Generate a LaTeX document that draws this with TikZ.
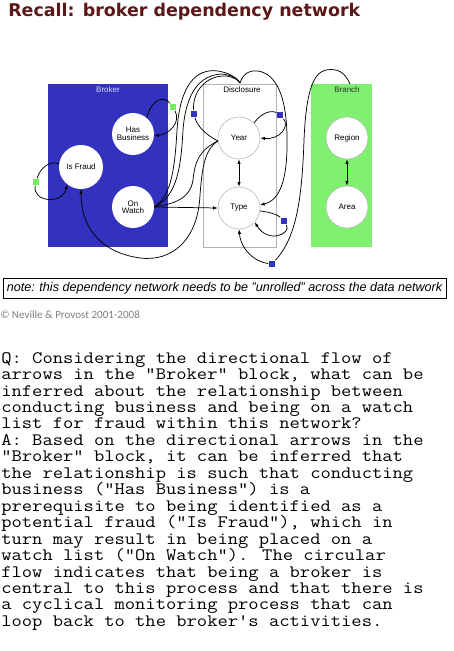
\documentclass[tikz,border=0pt]{standalone}
\usepackage{fontspec}
\setmainfont{Liberation Sans}
\newfontfamily\headfont{DejaVu Sans}
\newfontfamily\creditfont{Carlito}
\newcommand\qafont{\ttfamily\fontsize{13.1}{12.34}\selectfont\lineskiplimit=-20pt\relax}
\usetikzlibrary{arrows.meta}
\definecolor{brokerblue}{RGB}{50,50,190}
\definecolor{branchgreen}{RGB}{128,240,112}
\definecolor{squaregreen}{RGB}{120,235,100}
\definecolor{titlered}{RGB}{92,24,24}
\tikzset{
  attr/.style={circle, fill=white, minimum size=31.5pt, inner sep=0pt, align=center,
    font=\fontsize{6}{5.6}\selectfont},
  attrgray/.style={attr, draw=gray!60, line width=0.4pt},
  block/.style={rectangle, inner sep=0pt, minimum height=122.25pt},
  blocklabel/.style={anchor=north, inner sep=0pt, font=\fontsize{6}{7}\selectfont},
  relsq/.style={rectangle, minimum size=5.2pt, inner sep=0pt},
  link/.style={line width=0.55pt},
  dep/.style={link, -{Latex[length=3.5pt,width=2.6pt]}},
  mutual/.style={link, {Latex[length=3.5pt,width=2.6pt]}-{Latex[length=3.5pt,width=2.6pt]}}
}
\begin{document}
\begin{tikzpicture}[x=0.75pt,y=-0.75pt]
\useasboundingbox (0,0) rectangle (454,651);
\fill[white] (0,0) rectangle (454,651);

\node[anchor=base west, inner sep=0pt, text=titlered,
  font=\headfont\bfseries\fontsize{13.1}{15}\selectfont] (title) at (8,16) {Recall: broker dependency network};

\node[block, fill=brokerblue, minimum width=90pt] (broker) at (108,165.5) {};
\node[block, draw=gray!60, fill=white, minimum width=54.75pt] (disclosure) at (239.5,165.5) {};
\node[block, fill=branchgreen, minimum width=45.75pt] (branch) at (341.5,165.5) {};
\node[blocklabel, text=blue!15] (brokerlabel) at (108,86) {Broker};
\node[blocklabel] (disclosurelabel) at (242,86) {Disclosure};
\node[blocklabel, text=black!80] (branchlabel) at (347,86) {Branch};

\node[attr] (biz) at (133,134) {Has\\Business};
\node[attr, minimum size=33pt] (fraud) at (81,167) {Is Fraud};
\node[attr] (watch) at (133,207) {On\\Watch};
\node[attrgray] (year) at (239,138) {Year};
\node[attrgray] (type) at (239,208) {Type};
\node[attrgray] (region) at (347,138) {Region};
\node[attrgray] (area) at (347,207) {Area};

\node[relsq, fill=squaregreen] (sqbiz) at (173,107) {};
\node[relsq, fill=squaregreen] (sqfraud) at (36,182) {};
\node[relsq, fill=brokerblue] (sqyl) at (194,114) {};
\node[relsq, fill=brokerblue] (sqyr) at (280,115) {};
\node[relsq, fill=brokerblue] (sqtr) at (284,221) {};
\node[relsq, fill=brokerblue] (sqtb) at (272,264) {};
\coordinate (dip) at (240,83);
\coordinate (brtop) at (350,84);

\draw[link] (biz.50) .. controls (153,96) and (165,97) .. (sqbiz);
\draw[dep] (sqbiz) .. controls (181,122) and (170,134) .. (biz.-5);
\draw[link] (fraud.172) .. controls (50,160) and (40,168) .. (sqfraud);
\draw[dep] (sqfraud) .. controls (32,202) and (62,205) .. (fraud.232);

\draw[dep] (year.188) .. controls (204,150) and (202,170) .. (200,195)
  .. controls (198,240) and (172,262) .. (140,258) .. controls (98,252) and (81,225) .. (fraud.south);
\draw[link] (year.188) .. controls (200,150) and (195,160) .. (193,180)
  .. controls (190,200) and (172,204) .. (watch.east);
\draw[link] (watch.east) .. controls (172,196) and (175,165) .. (177,130)
  .. controls (180,85) and (196,68) .. (218,71) .. controls (230,73) and (237,78) .. (dip);
\draw[link] (watch.east) .. controls (178,196) and (181,165) .. (183,130)
  .. controls (186,92) and (200,75) .. (222,74) .. controls (232,75) and (238,79) .. (dip);
\draw[link] (year.188) .. controls (206,135) and (197,126) .. (sqyl);
\draw[link] (sqyl) .. controls (192,92) and (206,75) .. (226,76) .. controls (234,77) and (238,80) .. (dip);
\draw[dep] (dip) .. controls (243,74) and (249,70) .. (258,71)
  .. controls (276,74) and (286,95) .. (287,135) .. controls (288,180) and (280,200) .. (type.8);

\draw[link] (year.45) .. controls (262,112) and (272,110) .. (sqyr);
\draw[dep] (sqyr) .. controls (290,126) and (280,140) .. (year.east);
\draw[link] (type.-8) .. controls (270,212) and (278,215) .. (sqtr);
\draw[dep] (sqtr) .. controls (292,234) and (268,244) .. (type.-42);

\draw[link] (brtop) .. controls (345,72) and (337,68) .. (326,70)
  .. controls (312,73) and (306,95) .. (304,140) .. controls (302,200) and (296,238) .. (sqtb);
\draw[dep] (sqtb) .. controls (255,262) and (241,250) .. (type.south);

\draw[dep] (watch.east) -- (type.west);
\draw[mutual] (year) -- (type);
\draw[mutual] (region) -- (area);

\node[draw=black, line width=0.6pt, minimum width=332.25pt, minimum height=15pt, inner sep=0pt,
  font=\itshape\fontsize{9.45}{10}\selectfont] (note) at (224.5,288)
  {note: this dependency network needs to be "unrolled" across the data network};
\node[anchor=base west, inner sep=0pt, text=gray,
  font=\creditfont\fontsize{8.3}{9}\selectfont] (credit) at (0,318) {© Neville \& Provost 2001-2008};

\node[anchor=north west, inner sep=0pt, align=left, font=\qafont, xscale=1.145, transform shape] (qa) at (1,352)
  {Q: Considering the directional flow of\\
   arrows in the "Broker" block, what can be\\
   inferred about the relationship between\\
   conducting business and being on a watch\\
   list for fraud within this network?\\
   A: Based on the directional arrows in the\\
   "Broker" block, it can be inferred that\\
   the relationship is such that conducting\\
   business ("Has Business") is a\\
   prerequisite to being identified as a\\
   potential fraud ("Is Fraud"), which in\\
   turn may result in being placed on a\\
   watch list ("On Watch"). The circular\\
   flow indicates that being a broker is\\
   central to this process and that there is\\
   a cyclical monitoring process that can\\
   loop back to the broker's activities.};
\end{tikzpicture}
\end{document}
